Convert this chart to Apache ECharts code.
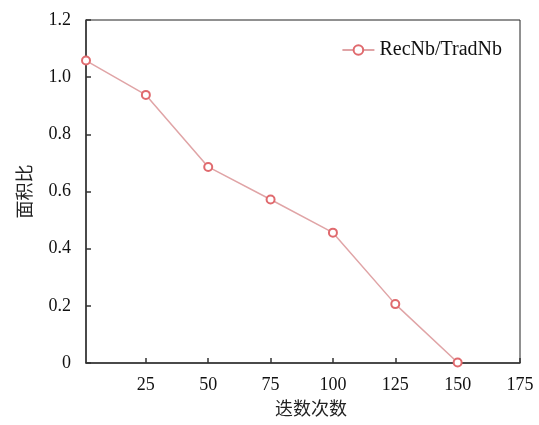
<!DOCTYPE html>
<html><head><meta charset="utf-8">
<script src="https://cdn.jsdelivr.net/npm/echarts@6/dist/echarts.min.js"></script>
<style>html,body{margin:0;padding:0;background:#fff}#c{width:539px;height:425px}</style>
</head><body><div id="c"></div>
<script>
const iterations = [1, 25, 50, 75, 100, 125, 150];
const ratioValues = [1.058, 0.938, 0.686, 0.572, 0.456, 0.206, 0.002];
const xTickLabels = [25, 50, 75, 100, 125, 150, 175];
const yTickLabels = ['0', '0.2', '0.4', '0.6', '0.8', '1.0', '1.2'];
const seriesName = 'RecNb/TradNb';
const xName = '迭数次数';
const yName = '面积比';

const serif = '"Liberation Serif", "Times New Roman", serif';
const cjk = '"Noto Sans CJK SC", sans-serif';
const chart = echarts.init(document.getElementById('c'), null, {renderer: 'canvas'});
chart.setOption({
  animation: false,
  backgroundColor: '#fff',
  grid: {left: 86, right: 19, top: 20, bottom: 62, show: true, borderColor: '#222', borderWidth: 1},
  legend: {
    right: 32, top: 35, itemWidth: 32, itemHeight: 12, itemGap: 4,
    textStyle: {fontFamily: serif, fontSize: 20, color: '#111'},
    data: [seriesName]
  },
  xAxis: {
    type: 'value', min: 1, max: 175,
    name: xName, nameLocation: 'middle', nameGap: 35,
    nameTextStyle: {fontFamily: cjk, fontSize: 18, color: '#222', padding: [0, 0, 0, 16]},
    axisLine: {lineStyle: {color: '#333', width: 1.5}},
    axisTick: {inside: true, length: 5, customValues: xTickLabels, lineStyle: {color: '#333', width: 1.5}},
    axisLabel: {customValues: xTickLabels, margin: 13, fontFamily: serif, fontSize: 18, color: '#111'},
    splitLine: {show: false}
  },
  yAxis: {
    type: 'value', min: 0, max: 1.2, interval: 0.2,
    name: yName, nameLocation: 'middle', nameGap: 53,
    nameTextStyle: {fontFamily: cjk, fontSize: 18, color: '#222'},
    axisLine: {show: true, lineStyle: {color: '#333', width: 1.5}},
    axisTick: {show: true, inside: true, length: 5, lineStyle: {color: '#333', width: 1.5}},
    axisLabel: {margin: 15, fontFamily: serif, fontSize: 18, color: '#111',
      formatter: function (v) { return yTickLabels[Math.round(v / 0.2)]; }},
    splitLine: {show: false}
  },
  series: [{
    name: seriesName, type: 'line',
    data: iterations.map((x, i) => [x, ratioValues[i]]),
    symbol: 'emptyCircle', symbolSize: 8,
    lineStyle: {color: '#e0a4a6', width: 1.5},
    itemStyle: {color: '#e06a6e', borderColor: '#d65a60', borderWidth: 2},
    clip: false
  }]
});
</script></body></html>
